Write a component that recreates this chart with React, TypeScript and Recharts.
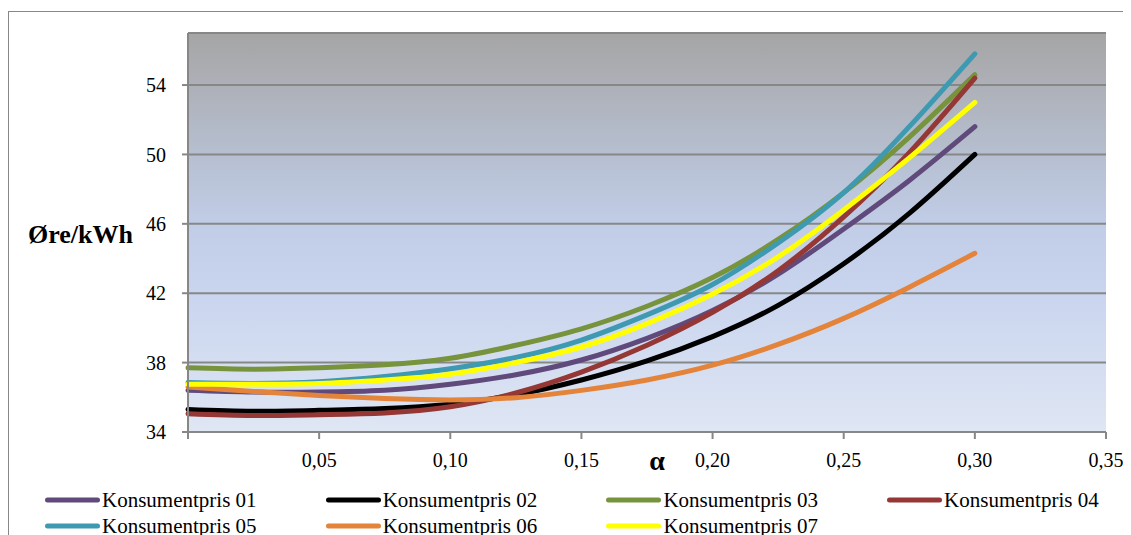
import React from "react";
import {
  LineChart,
  Line,
  XAxis,
  YAxis,
  CartesianGrid,
  Legend,
} from "recharts";

// alpha values (x axis)
const alphaValues = [0, 0.025, 0.05, 0.075, 0.1, 0.125, 0.15, 0.175, 0.2, 0.225, 0.25, 0.275, 0.3];

// consumer price, øre/kWh, one array per series
const kp01 = [36.4, 36.3, 36.3, 36.4, 36.75, 37.3, 38.15, 39.4, 41.0, 43.1, 45.7, 48.5, 51.6];
const kp02 = [35.3, 35.2, 35.25, 35.35, 35.6, 36.15, 37.0, 38.1, 39.5, 41.3, 43.7, 46.6, 50.0];
const kp03 = [37.7, 37.62, 37.7, 37.87, 38.25, 39.0, 39.95, 41.25, 42.9, 45.1, 47.8, 51.0, 54.6];
const kp04 = [35.05, 34.95, 35.0, 35.1, 35.45, 36.25, 37.45, 39.0, 40.9, 43.3, 46.4, 50.1, 54.4];
const kp05 = [36.85, 36.8, 36.9, 37.2, 37.65, 38.3, 39.3, 40.75, 42.5, 44.9, 47.8, 51.6, 55.8];
const kp06 = [36.6, 36.33, 36.1, 35.93, 35.85, 35.98, 36.4, 37.0, 37.85, 39.05, 40.55, 42.35, 44.3];
const kp07 = [36.75, 36.75, 36.8, 37.0, 37.33, 38.0, 38.9, 40.25, 41.95, 44.1, 46.8, 49.8, 53.0];

const xTicks = [0, 0.05, 0.1, 0.15, 0.2, 0.25, 0.3, 0.35];
const yTicks = [34, 38, 42, 46, 50, 54];

const series = [
  { key: "kp01", name: "Konsumentpris 01", values: kp01, color: "#604a7b" },
  { key: "kp02", name: "Konsumentpris 02", values: kp02, color: "#000000" },
  { key: "kp03", name: "Konsumentpris 03", values: kp03, color: "#77933c" },
  { key: "kp04", name: "Konsumentpris 04", values: kp04, color: "#953735" },
  { key: "kp05", name: "Konsumentpris 05", values: kp05, color: "#3e9ab0" },
  { key: "kp06", name: "Konsumentpris 06", values: kp06, color: "#e3843a" },
  { key: "kp07", name: "Konsumentpris 07", values: kp07, color: "#ffff00" },
];

const data = alphaValues.map((a, i) => {
  const row: Record<string, number> = { alpha: a };
  series.forEach((s) => {
    row[s.key] = s.values[i];
  });
  return row;
});

const FONT = '"Liberation Serif", "DejaVu Serif", serif';
const AXIS_GRAY = "#878787";

const fmt = (v: number) => (v === 0 ? "" : v.toFixed(2).replace(".", ","));

function YTitle(props: any) {
  const vb = props.viewBox || { x: 0, y: 0 };
  return (
    <text
      x={vb.x + 19}
      y={vb.y + 210}
      fontFamily={FONT}
      fontSize={26}
      fontWeight="bold"
      fill="#000"
    >
      Øre/kWh
    </text>
  );
}

function XTitle(props: any) {
  const vb = props.viewBox || { x: 0, y: 0, width: 0 };
  return (
    <text
      x={vb.x + vb.width * 0.511}
      y={vb.y + 38}
      textAnchor="middle"
      fontFamily={FONT}
      fontSize={28}
      fontWeight="bold"
      fill="#000"
    >
      α
    </text>
  );
}

function LegendBox() {
  return (
    <div
      style={{
        display: "grid",
        gridTemplateColumns: "repeat(4, 280.7px)",
        gridAutoRows: "26px",
        fontFamily: FONT,
        fontSize: 21,
        color: "#000",
      }}
    >
      {series.map((s) => (
        <div key={s.key} style={{ display: "flex", alignItems: "center", whiteSpace: "nowrap" }}>
          <svg width={55} height={10} style={{ display: "block" }}>
            <line x1={2.5} y1={5} x2={52.5} y2={5} stroke={s.color} strokeWidth={5} strokeLinecap="round" />
          </svg>
          <span style={{ marginLeft: 2, lineHeight: "26px" }}>{s.name}</span>
        </div>
      ))}
    </div>
  );
}

export default function App() {
  return (
    <div
      style={{
        width: 1119,
        height: 540,
        marginTop: 3,
        border: `1px solid ${AXIS_GRAY}`,
        boxSizing: "border-box",
        background: "#fff",
        fontFamily: FONT,
      }}
    >
      <LineChart
        width={1117}
        height={530}
        data={data}
        margin={{ top: 21, right: 20, bottom: 50, left: 0 }}
      >
        <defs>
          <linearGradient id="plotBg" x1="0" y1="0" x2="0" y2="1">
            <stop offset="0" stopColor="#a5a5a5" />
            <stop offset="0.13" stopColor="#adb0b7" />
            <stop offset="0.3" stopColor="#b6bfd0" />
            <stop offset="0.48" stopColor="#c1cde7" />
            <stop offset="0.65" stopColor="#c9d5ee" />
            <stop offset="1" stopColor="#dfe6f4" />
          </linearGradient>
        </defs>
        <CartesianGrid
          vertical={false}
          stroke={AXIS_GRAY}
          strokeWidth={2}
          fill="url(#plotBg)"
          fillOpacity={1}
        />
        <XAxis
          dataKey="alpha"
          type="number"
          domain={[0, 0.35]}
          ticks={xTicks}
          tickFormatter={fmt}
          interval={0}
          height={60}
          tickSize={7}
          tickMargin={14}
          axisLine={{ stroke: AXIS_GRAY, strokeWidth: 2 }}
          tickLine={{ stroke: AXIS_GRAY, strokeWidth: 2 }}
          tick={{ fill: "#000", fontFamily: FONT, fontSize: 20 }}
          label={<XTitle />}
        />
        <YAxis
          type="number"
          domain={[34, 57]}
          ticks={yTicks}
          interval={0}
          width={179}
          tickSize={6}
          tickMargin={16}
          axisLine={{ stroke: AXIS_GRAY, strokeWidth: 2 }}
          tickLine={{ stroke: AXIS_GRAY, strokeWidth: 2 }}
          tick={{ fill: "#000", fontFamily: FONT, fontSize: 20 }}
          label={<YTitle />}
        />
        <Legend
          content={<LegendBox />}
          wrapperStyle={{
            position: "absolute",
            left: 36,
            top: 475,
            width: 1100,
            height: 0,
            overflow: "visible",
          }}
        />
        {series.map((s) => (
          <Line
            key={s.key}
            dataKey={s.key}
            name={s.name}
            type="natural"
            stroke={s.color}
            strokeWidth={5}
            strokeLinecap="round"
            dot={false}
            activeDot={false}
            isAnimationActive={false}
          />
        ))}
      </LineChart>
    </div>
  );
}
